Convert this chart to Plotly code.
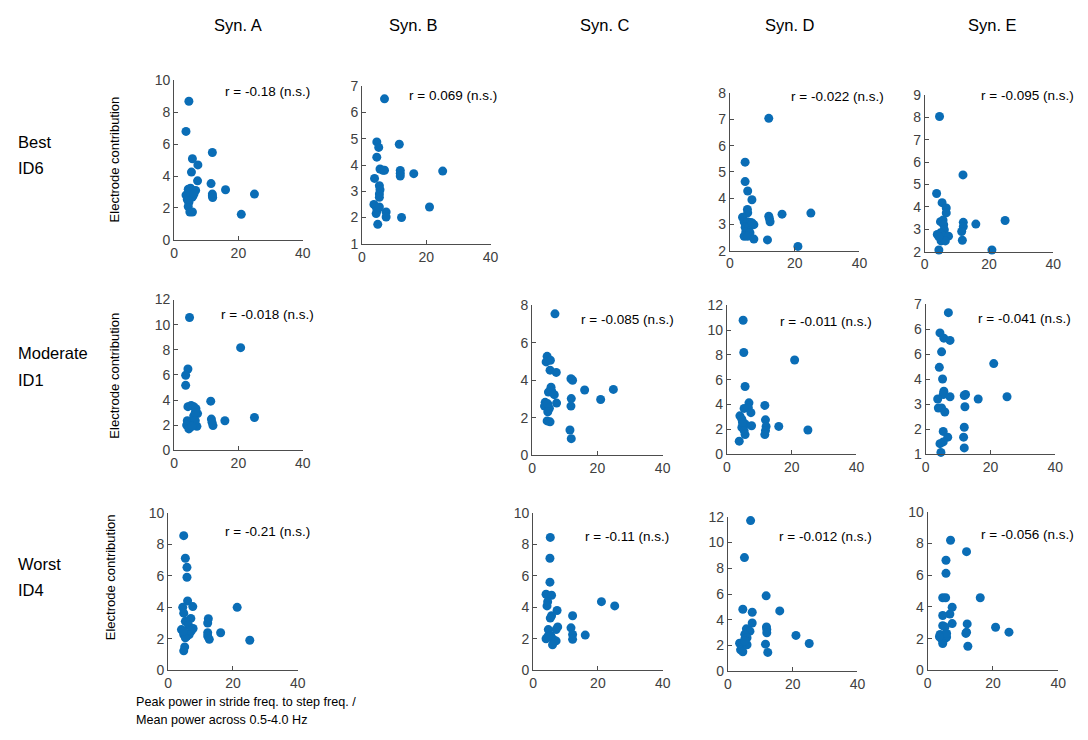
import plotly.graph_objects as go

W, H = 1088, 740

# ---------------- data ----------------
syn_titles = ["Syn. A", "Syn. B", "Syn. C", "Syn. D", "Syn. E"]
row_labels = [("Best", "ID6"), ("Moderate", "ID1"), ("Worst", "ID4")]

a1_x = [4.6, 3.7, 11.9, 5.7, 7.4, 5.4, 7.3, 11.5, 16.0, 25.0, 20.9, 11.9, 11.9, 12.0, 3.7, 4.4, 5.1, 5.9, 6.7, 4.9, 5.6, 4.6, 4.4, 4.9, 5.7, 5.1, 4.1, 5.9, 4.8, 6.2]
a1_y = [8.69, 6.80, 5.48, 5.09, 4.70, 4.25, 3.70, 3.53, 3.14, 2.87, 1.60, 2.87, 2.75, 2.65, 2.81, 3.18, 3.24, 3.08, 3.10, 2.67, 2.67, 2.36, 2.09, 1.75, 1.75, 2.94, 2.53, 2.77, 3.00, 2.90]

b1_x = [7.0, 4.6, 11.6, 5.2, 4.6, 5.6, 6.5, 7.0, 11.9, 11.9, 11.9, 16.1, 25.1, 3.9, 5.4, 5.6, 5.4, 5.4, 3.7, 4.4, 4.7, 4.4, 5.4, 7.5, 7.5, 12.3, 21.0, 4.9]
b1_y = [6.52, 4.88, 4.79, 4.67, 4.30, 3.85, 3.80, 3.80, 3.79, 3.68, 3.58, 3.67, 3.77, 3.49, 3.21, 3.06, 2.90, 2.77, 2.50, 2.40, 2.27, 2.15, 2.40, 2.21, 2.02, 2.00, 2.40, 1.74]

d1_x = [12.0, 4.7, 4.7, 5.5, 6.8, 5.4, 5.5, 16.1, 25.0, 12.0, 12.2, 12.4, 3.9, 4.4, 5.4, 6.4, 7.4, 4.7, 5.9, 4.9, 6.2, 4.4, 5.4, 6.9, 7.4, 11.6, 21.0]
d1_y = [7.04, 5.37, 4.63, 4.27, 3.94, 3.57, 3.44, 3.39, 3.43, 3.31, 3.22, 3.10, 3.27, 3.10, 3.10, 3.07, 2.99, 2.89, 2.89, 2.71, 2.68, 2.55, 2.55, 3.05, 2.44, 2.41, 2.16]

e1_x = [4.6, 11.9, 3.7, 5.4, 6.7, 6.7, 25.0, 15.9, 12.0, 12.0, 11.5, 11.7, 20.9, 4.4, 4.9, 5.7, 5.9, 6.1, 3.9, 4.9, 5.9, 7.4, 5.1, 6.4, 4.4]
e1_y = [8.04, 5.43, 4.60, 4.19, 3.95, 3.73, 3.39, 3.23, 3.31, 3.12, 2.90, 2.51, 2.07, 2.07, 3.34, 3.41, 3.20, 2.98, 2.77, 2.84, 2.69, 2.69, 2.48, 2.48, 2.66]

a2_x = [4.8, 20.7, 4.3, 3.6, 3.6, 11.4, 4.3, 5.3, 6.1, 6.8, 7.3, 25.0, 15.8, 11.6, 11.8, 12.1, 7.1, 4.1, 5.4, 6.1, 6.6, 3.9, 4.6, 5.6, 6.6]
a2_y = [10.57, 8.17, 6.47, 5.97, 5.17, 3.91, 3.47, 3.57, 3.47, 3.31, 2.92, 2.61, 2.35, 2.48, 2.22, 1.96, 1.90, 2.35, 2.22, 2.74, 2.35, 2.00, 1.70, 1.90, 3.00]

c2_x = [7.0, 4.6, 4.3, 5.6, 5.5, 7.4, 11.9, 12.4, 5.8, 6.0, 5.0, 16.1, 24.9, 6.8, 12.0, 21.0, 7.5, 4.0, 3.8, 4.8, 5.3, 4.8, 11.9, 4.6, 5.5, 11.6, 12.0]
c2_y = [7.55, 5.28, 4.98, 5.07, 4.54, 4.42, 4.08, 4.00, 3.63, 3.42, 3.37, 3.48, 3.51, 3.23, 3.02, 2.97, 2.78, 2.82, 2.62, 2.74, 2.50, 2.32, 2.62, 1.83, 1.78, 1.34, 0.88]

d2_x = [5.0, 5.2, 20.9, 5.6, 6.8, 11.7, 5.3, 6.6, 7.4, 4.0, 4.6, 11.9, 5.6, 7.6, 16.0, 12.1, 11.9, 11.7, 25.0, 4.6, 5.3, 5.6, 3.8, 4.8]
d2_y = [10.80, 8.20, 7.60, 5.46, 4.14, 3.93, 3.69, 3.74, 3.35, 3.09, 2.82, 2.77, 2.43, 2.29, 2.24, 2.24, 1.90, 1.58, 1.95, 2.16, 1.90, 1.58, 1.05, 2.56]

e2_x = [7.0, 4.4, 5.6, 7.5, 4.9, 21.0, 4.2, 5.2, 5.6, 5.4, 7.5, 12.3, 11.9, 16.2, 25.1, 3.7, 3.9, 4.9, 5.9, 12.1, 5.4, 11.9, 6.8, 11.7, 5.4, 4.4, 11.9, 4.7]
e2_y = [6.67, 5.86, 5.65, 5.56, 5.10, 4.63, 4.48, 4.01, 3.52, 3.39, 3.30, 3.39, 3.35, 3.21, 3.30, 3.21, 2.85, 2.85, 2.69, 2.90, 1.91, 2.08, 1.68, 1.68, 1.49, 1.42, 1.25, 1.07]

a3_x = [4.8, 5.3, 5.8, 5.8, 6.0, 7.6, 4.5, 4.8, 21.3, 7.0, 12.4, 12.2, 5.3, 6.3, 7.7, 7.1, 4.1, 4.8, 5.8, 6.5, 12.2, 12.2, 12.7, 16.2, 25.2, 5.3, 5.1, 4.8, 4.6]
a3_y = [8.55, 7.12, 6.54, 5.91, 4.40, 4.05, 4.00, 3.63, 4.00, 3.30, 3.28, 3.01, 3.11, 2.86, 2.66, 2.49, 2.59, 2.28, 2.18, 2.28, 2.39, 2.18, 1.97, 2.39, 1.91, 2.07, 1.49, 1.24, 2.49]

c3_x = [5.3, 5.2, 5.2, 4.0, 5.7, 4.5, 4.3, 21.1, 25.2, 7.4, 5.7, 5.3, 12.2, 7.6, 7.1, 4.7, 11.7, 12.2, 12.2, 16.1, 4.0, 5.5, 6.2, 7.1, 6.0, 4.5]
c3_y = [8.44, 7.12, 5.60, 4.83, 4.77, 4.36, 4.09, 4.36, 4.09, 3.80, 3.47, 3.32, 3.47, 2.76, 2.59, 2.59, 2.70, 2.28, 1.97, 2.24, 2.01, 2.18, 1.97, 1.87, 1.62, 2.14]

d3_x = [7.0, 5.1, 11.8, 16.0, 4.6, 7.5, 7.5, 11.9, 12.0, 12.0, 5.7, 6.8, 21.0, 5.2, 5.9, 5.2, 11.6, 25.1, 12.3, 3.6, 4.4, 3.9, 4.6, 5.9, 5.2]
d3_y = [11.70, 8.83, 5.86, 4.69, 4.82, 4.59, 3.75, 3.45, 3.25, 2.99, 3.30, 3.12, 2.79, 2.87, 2.61, 2.49, 2.11, 2.16, 1.47, 2.18, 1.98, 1.67, 1.52, 2.06, 2.36]

e3_x = [7.0, 11.9, 5.6, 5.6, 4.6, 5.5, 16.1, 7.5, 6.8, 4.6, 7.5, 12.1, 20.8, 24.9, 11.9, 11.7, 12.3, 4.6, 5.3, 3.8, 4.8, 5.8, 4.3, 5.3, 4.6, 5.8, 3.6]
e3_y = [8.21, 7.49, 6.95, 6.12, 4.58, 4.58, 4.58, 3.98, 3.55, 3.46, 2.95, 2.93, 2.72, 2.41, 2.41, 2.33, 1.52, 2.82, 2.74, 2.27, 2.16, 2.10, 1.96, 2.00, 1.69, 2.33, 2.12]

r_labels = ["r = -0.18 (n.s.)", "r = 0.069 (n.s.)", "r = -0.022 (n.s.)", "r = -0.095 (n.s.)",
            "r = -0.018 (n.s.)", "r = -0.085 (n.s.)", "r = -0.011 (n.s.)", "r = -0.041 (n.s.)",
            "r = -0.21 (n.s.)", "r = -0.11 (n.s.)", "r = -0.012 (n.s.)", "r = -0.056 (n.s.)"]

y_ranges = [(0, 10, 2), (1, 7, 1), (2, 8, 1), (2, 9, 1),
            (0, 12, 2), (0, 8, 2), (0, 12, 2), (1, 7, 1),
            (0, 10, 2), (0, 10, 2), (0, 12, 2), (0, 10, 2)]
x_range = (0, 40, 20)

# tick labels as printed in the source (panel "Moderate / Syn. E" shows a repeated 6)
e2_ticks = [1, 2, 3, 4, 5, 6, 7]
e2_ticktext = ["1", "2", "3", "4", "6", "6", "7"]

series = [(a1_x, a1_y), (b1_x, b1_y), (d1_x, d1_y), (e1_x, e1_y),
          (a2_x, a2_y), (c2_x, c2_y), (d2_x, d2_y), (e2_x, e2_y),
          (a3_x, a3_y), (c3_x, c3_y), (d3_x, d3_y), (e3_x, e3_y)]

# ---------------- layout (pixel boxes: x0, x1, ytop, ybottom) ----------------
boxes = [(172, 302, 74, 237), (362, 492, 80, 241), (734, 865, 87, 248), (931, 1061, 89, 249),
         (172, 302, 298, 452), (534, 666, 304, 457), (731, 862, 304, 456), (932, 1063, 303, 456),
         (166, 297, 516, 677), (535, 666, 516, 677), (732, 863, 520, 678), (934, 1066, 515, 677)]
r_pos = [(266, 85), (454, 89), (843, 90), (1035, 89),
         (266, 313), (630, 318), (831, 320), (1032, 317),
         (266, 535), (630, 540), (831, 540), (1035, 538)]

FONT = "Liberation Sans, Arial, Helvetica, sans-serif"
AX_COL = "#4d4d4d"
DOT = "#0a6db6"

def px(x):
    return x / W

def py(y):
    return 1 - y / H

fig = go.Figure()
layout = dict(width=W, height=H, margin=dict(l=0, r=0, t=0, b=0),
              paper_bgcolor="white", plot_bgcolor="white", showlegend=False,
              font=dict(family=FONT, color="black"))
annotations = []

for i, ((xs, ys), (x0, x1, yt, yb), (ylo, yhi, ydt)) in enumerate(zip(series, boxes, y_ranges)):
    k = i + 1
    sfx = "" if k == 1 else str(k)
    fig.add_trace(go.Scatter(x=xs, y=ys, mode="markers", xaxis="x" + sfx, yaxis="y" + sfx,
                             marker=dict(size=9, color=DOT), cliponaxis=False, hoverinfo="x+y"))
    common = dict(showgrid=False, zeroline=False, showline=True, linecolor=AX_COL, linewidth=1,
                  ticks="inside", ticklen=4, tickcolor=AX_COL, tickwidth=1,
                  tickfont=dict(family=FONT, size=14, color="#404040"), fixedrange=True)
    layout["xaxis" + sfx] = dict(domain=[px(x0), px(x1)], range=[x_range[0], x_range[1]],
                                 tick0=0, dtick=x_range[2], anchor="y" + sfx, **common)
    yax = dict(domain=[py(yb), py(yt)], range=[ylo, yhi],
               tick0=ylo, dtick=ydt, anchor="x" + sfx, **common)
    if i == 7:
        yax.update(tickmode="array", tickvals=e2_ticks, ticktext=e2_ticktext)
    layout["yaxis" + sfx] = yax
    rx, ry = r_pos[i]
    annotations.append(dict(x=px(rx), y=py(ry), xref="paper", yref="paper", text=r_labels[i],
                            showarrow=False, xanchor="center", yanchor="middle",
                            font=dict(family=FONT, size=13.5, color="black")))

for t, cx in zip(syn_titles, [237, 414, 608, 795, 1000]):
    annotations.append(dict(x=px(cx), y=py(17), xref="paper", yref="paper", text=t, showarrow=False,
                            xanchor="center", yanchor="middle", font=dict(family=FONT, size=16.5)))

for (l1, l2), cy in zip(row_labels, [137, 353, 568]):
    annotations.append(dict(x=px(12), y=py(cy), xref="paper", yref="paper", text=l1, showarrow=False,
                            xanchor="left", yanchor="middle", font=dict(family=FONT, size=16.5)))
    annotations.append(dict(x=px(12), y=py(cy + 27), xref="paper", yref="paper", text=l2, showarrow=False,
                            xanchor="left", yanchor="middle", font=dict(family=FONT, size=16.5)))

for cx, cy in [(112, 155), (112, 376), (108, 582)]:
    annotations.append(dict(x=px(cx), y=py(cy), xref="paper", yref="paper", text="Electrode contribution",
                            showarrow=False, textangle=-90, xanchor="center", yanchor="middle",
                            font=dict(family=FONT, size=13)))

annotations.append(dict(x=px(131), y=py(709), xref="paper", yref="paper",
                        text="Peak power in stride freq. to step freq. /", showarrow=False,
                        xanchor="left", yanchor="middle", font=dict(family=FONT, size=12.6)))
annotations.append(dict(x=px(131), y=py(728), xref="paper", yref="paper",
                        text="Mean power across 0.5-4.0 Hz", showarrow=False,
                        xanchor="left", yanchor="middle", font=dict(family=FONT, size=12.6)))

layout["annotations"] = annotations
fig.update_layout(**layout)
fig.write_html("out.html", config={"displayModeBar": False})
